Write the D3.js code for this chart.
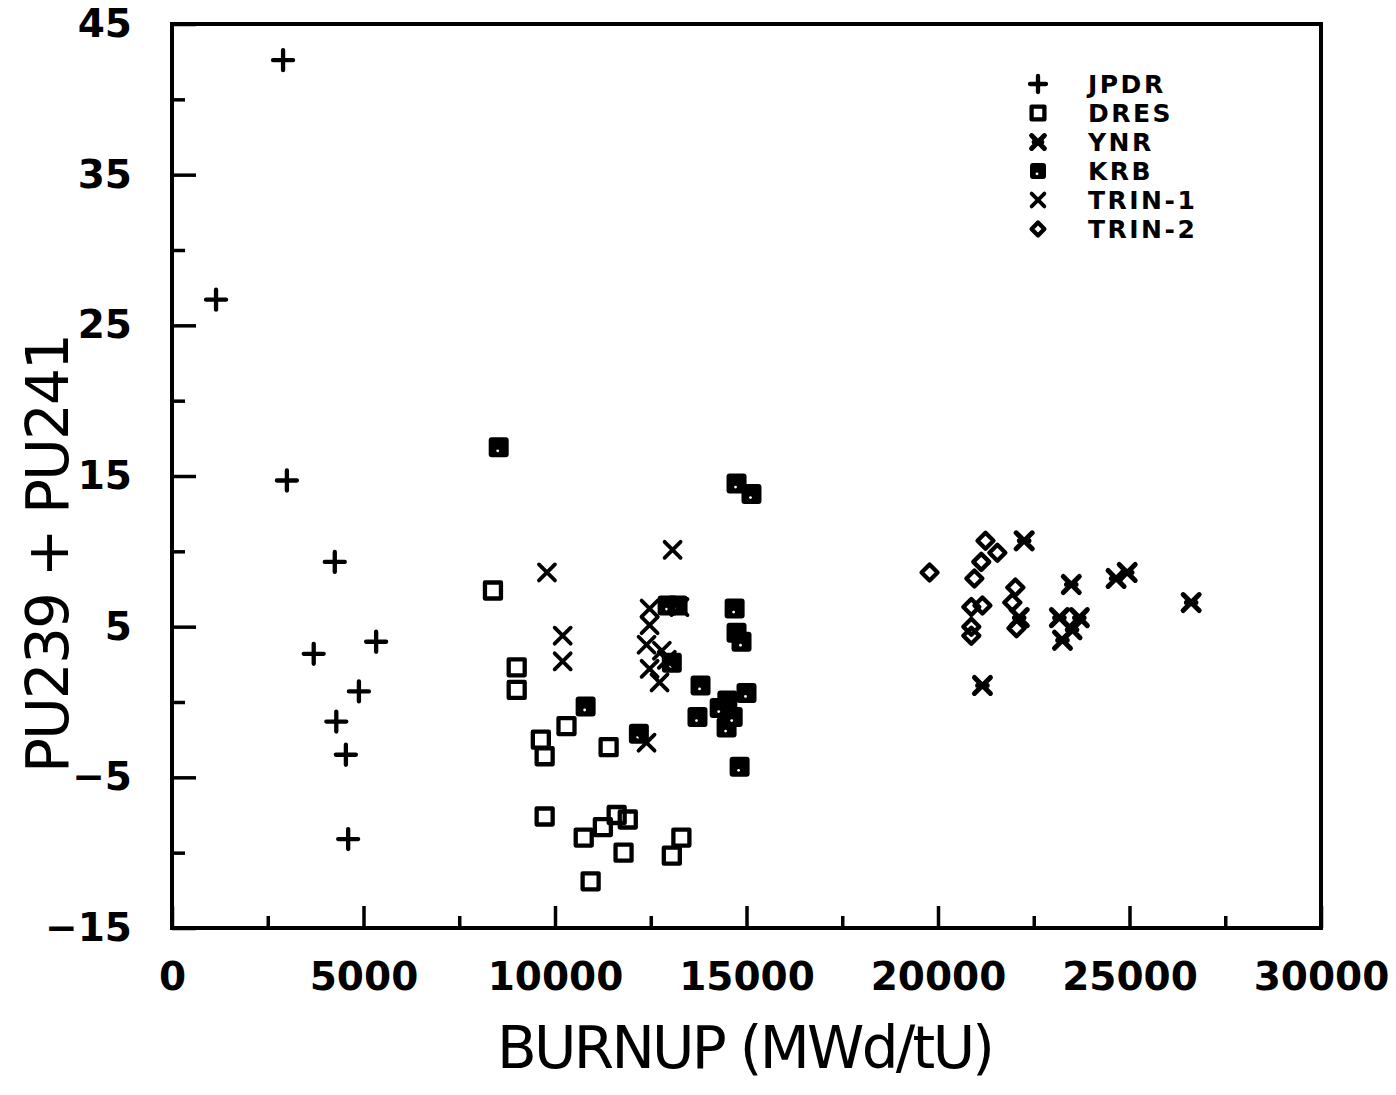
<!DOCTYPE html>
<html>
<head>
<meta charset="utf-8">
<script src="https://cdn.jsdelivr.net/npm/d3@7"></script>
<style>
  html, body { margin: 0; padding: 0; background: #fff; }
  svg { display: block; }
</style>
</head>
<body>
<svg id="chart" width="1396" height="1095"></svg>
<script>
// burnup (MWd/tU), PU239 + PU241 deviation
const jpdr = [[2900, 42.6], [1150, 26.7], [3000, 14.7], [4250, 9.3], [3700, 3.2],
  [5330, 4.0], [4880, 0.7], [4290, -1.3], [4540, -3.5], [4600, -9.1]]
const dres = [[8380, 7.4], [9000, 2.3], [9000, 0.8], [10300, -1.6], [9630, -2.5],
  [9730, -3.6], [11400, -3.0], [9730, -7.6], [10750, -9.0], [11250, -8.3],
  [11610, -7.5], [11900, -7.8], [11790, -10.0], [10930, -11.9], [13300, -9.0],
  [13050, -10.2]]
const ynr = [[22250, 10.7], [23480, 7.8], [24650, 8.2], [24940, 8.6], [26610, 6.6],
  [23170, 5.6], [23690, 5.6], [23500, 4.8], [23250, 4.1], [21160, 1.1], [22120, 5.6]]
const krb = [[8530, 16.9], [14740, 14.5], [15130, 13.8], [14690, 6.2], [14740, 4.6],
  [14870, 4.0], [10800, -0.3], [12190, -2.1], [13800, 1.1], [13720, -1.0],
  [15000, 0.6], [14500, 0.1], [14300, -0.4], [14480, -1.7], [14640, -1.0],
  [14820, -4.3], [12940, 6.4], [13200, 6.4], [13050, 2.6]]
const trin1 = [[9790, 8.6], [13070, 10.1], [10200, 4.4], [10200, 2.7], [12390, -2.7],
  [12470, 6.2], [13250, 6.3], [12470, 5.1], [12390, 3.8], [12790, 3.4],
  [12470, 2.2], [12730, 1.3], [12920, 2.8]]
const trin2 = [[19780, 8.6], [21240, 10.7], [21550, 9.9], [21130, 9.3], [20950, 8.2],
  [22020, 7.6], [21940, 6.6], [22050, 4.9], [20870, 6.3], [21160, 6.4],
  [20870, 5.0], [20870, 4.4]]

const seriesNames = ['JPDR', 'DRES', 'YNR', 'KRB', 'TRIN-1', 'TRIN-2']
const seriesData = [jpdr, dres, ynr, krb, trin1, trin2]
const seriesMarks = ['plus', 'square', 'ynr', 'krb', 'times', 'diamond']

const xTicks = [0, 5000, 10000, 15000, 20000, 25000, 30000]
const xMinor = [2500, 7500, 12500, 17500, 22500, 27500]
const yTicks = [-15, -5, 5, 15, 25, 35, 45]
const yMinor = [-10, 0, 10, 20, 30, 40]

const svg = d3.select('#chart')
const x = d3.scaleLinear().domain([0, 30000]).range([172, 1321])
const y = d3.scaleLinear().domain([-15, 45]).range([928, 24])

// marker shapes, r = half size
const markPath = (type, r) => {
    const p = d3.path()
    if (type === 'plus') {
        p.moveTo(-r, 0); p.lineTo(r, 0); p.moveTo(0, -r); p.lineTo(0, r)
    } else if (type === 'square') {
        p.rect(-r * 0.8, -r * 0.8, r * 1.6, r * 1.6)
    } else if (type === 'times' || type === 'ynr') {
        const s = r * 0.8
        p.moveTo(-s, -s); p.lineTo(s, s); p.moveTo(-s, s); p.lineTo(s, -s)
        if (type === 'ynr') { p.moveTo(-s * 0.6, 0); p.lineTo(s * 0.6, 0) }
    } else if (type === 'diamond') {
        const s = r * 0.8
        p.moveTo(0, -s); p.lineTo(s, 0); p.lineTo(0, s); p.lineTo(-s, 0); p.closePath()
    }
    return p.toString()
}

const drawMark = (g, type, r) => {
    if (type === 'krb') {
        g.append('rect')
            .attr('x', -r).attr('y', -r).attr('width', 2 * r).attr('height', 2 * r)
            .attr('rx', 3).attr('fill', '#000')
        g.append('circle').attr('cx', -1).attr('cy', r * 0.35).attr('r', 1.4).attr('fill', '#fff')
        return
    }
    g.append('path')
        .attr('d', markPath(type, r))
        .attr('fill', 'none')
        .attr('stroke', '#000')
        .attr('stroke-width', type === 'times' ? 3.8 : (type === 'ynr' ? 5 : 4.3))
        .attr('stroke-linecap', 'round')
        .attr('stroke-linejoin', 'round')
}

// axes (ticks point inward)
const fontTicks = 'DejaVu Sans, Verdana, sans-serif'

svg.append('g').attr('transform', 'translate(0,928)')
    .call(d3.axisBottom(x).tickValues(xMinor).tickSize(-12).tickSizeOuter(0).tickFormat(''))
svg.append('g').attr('class', 'xaxis').attr('transform', 'translate(0,928)')
    .call(d3.axisBottom(x).tickValues(xTicks).tickSize(-22).tickSizeOuter(0).tickPadding(34)
        .tickFormat(d3.format('d')))
svg.append('g').attr('transform', 'translate(172,0)')
    .call(d3.axisLeft(y).tickValues(yMinor).tickSize(-13).tickSizeOuter(0).tickFormat(''))
svg.append('g').attr('class', 'yaxis').attr('transform', 'translate(172,0)')
    .call(d3.axisLeft(y).tickValues(yTicks).tickSize(-24).tickSizeOuter(0).tickPadding(40)
        .tickFormat(d => d < 0 ? '\u2212' + Math.abs(d) : d))

svg.selectAll('.domain').remove()
svg.selectAll('.tick line').attr('stroke', '#000').attr('stroke-width', 3.5)
svg.selectAll('.tick text')
    .attr('fill', '#000')
    .style('font-family', fontTicks)
    .style('font-weight', 'bold')
    .style('font-size', '39px')

// frame
svg.append('rect')
    .attr('x', 172).attr('y', 24).attr('width', 1321 - 172).attr('height', 928 - 24)
    .attr('fill', 'none').attr('stroke', '#000').attr('stroke-width', 4)

// points
seriesData.forEach((data, i) => {
    svg.append('g').attr('class', 'series')
        .selectAll('g')
        .data(data)
        .enter().append('g')
        .attr('transform', d => `translate(${x(d[0])},${y(d[1])})`)
        .each(function () { drawMark(d3.select(this), seriesMarks[i], 10) })
})

// legend
const legend = svg.append('g').attr('transform', 'translate(1038,84)')
seriesNames.forEach((name, i) => {
    const row = legend.append('g').attr('transform', `translate(0,${i * 29})`)
    drawMark(row.append('g'), seriesMarks[i], 8)
    row.append('text')
        .attr('x', 50).attr('y', 0).attr('dy', '0.36em')
        .style('font-family', fontTicks)
        .style('font-weight', 'bold')
        .style('font-size', '25px')
        .style('letter-spacing', '2.5px')
        .text(name)
})

// axis titles
svg.append('text')
    .attr('x', 746).attr('y', 1068)
    .attr('text-anchor', 'middle')
    .attr('textLength', 498).attr('lengthAdjust', 'spacing')
    .style('font-family', fontTicks)
    .style('font-size', '58px')
    .text('BURNUP  (MWd/tU)')

svg.append('text')
    .attr('transform', 'translate(68,553) rotate(-90)')
    .attr('text-anchor', 'middle')
    .attr('textLength', 440).attr('lengthAdjust', 'spacing')
    .style('font-family', fontTicks)
    .style('font-size', '58px')
    .text('PU239 + PU241')
</script>
</body>
</html>
